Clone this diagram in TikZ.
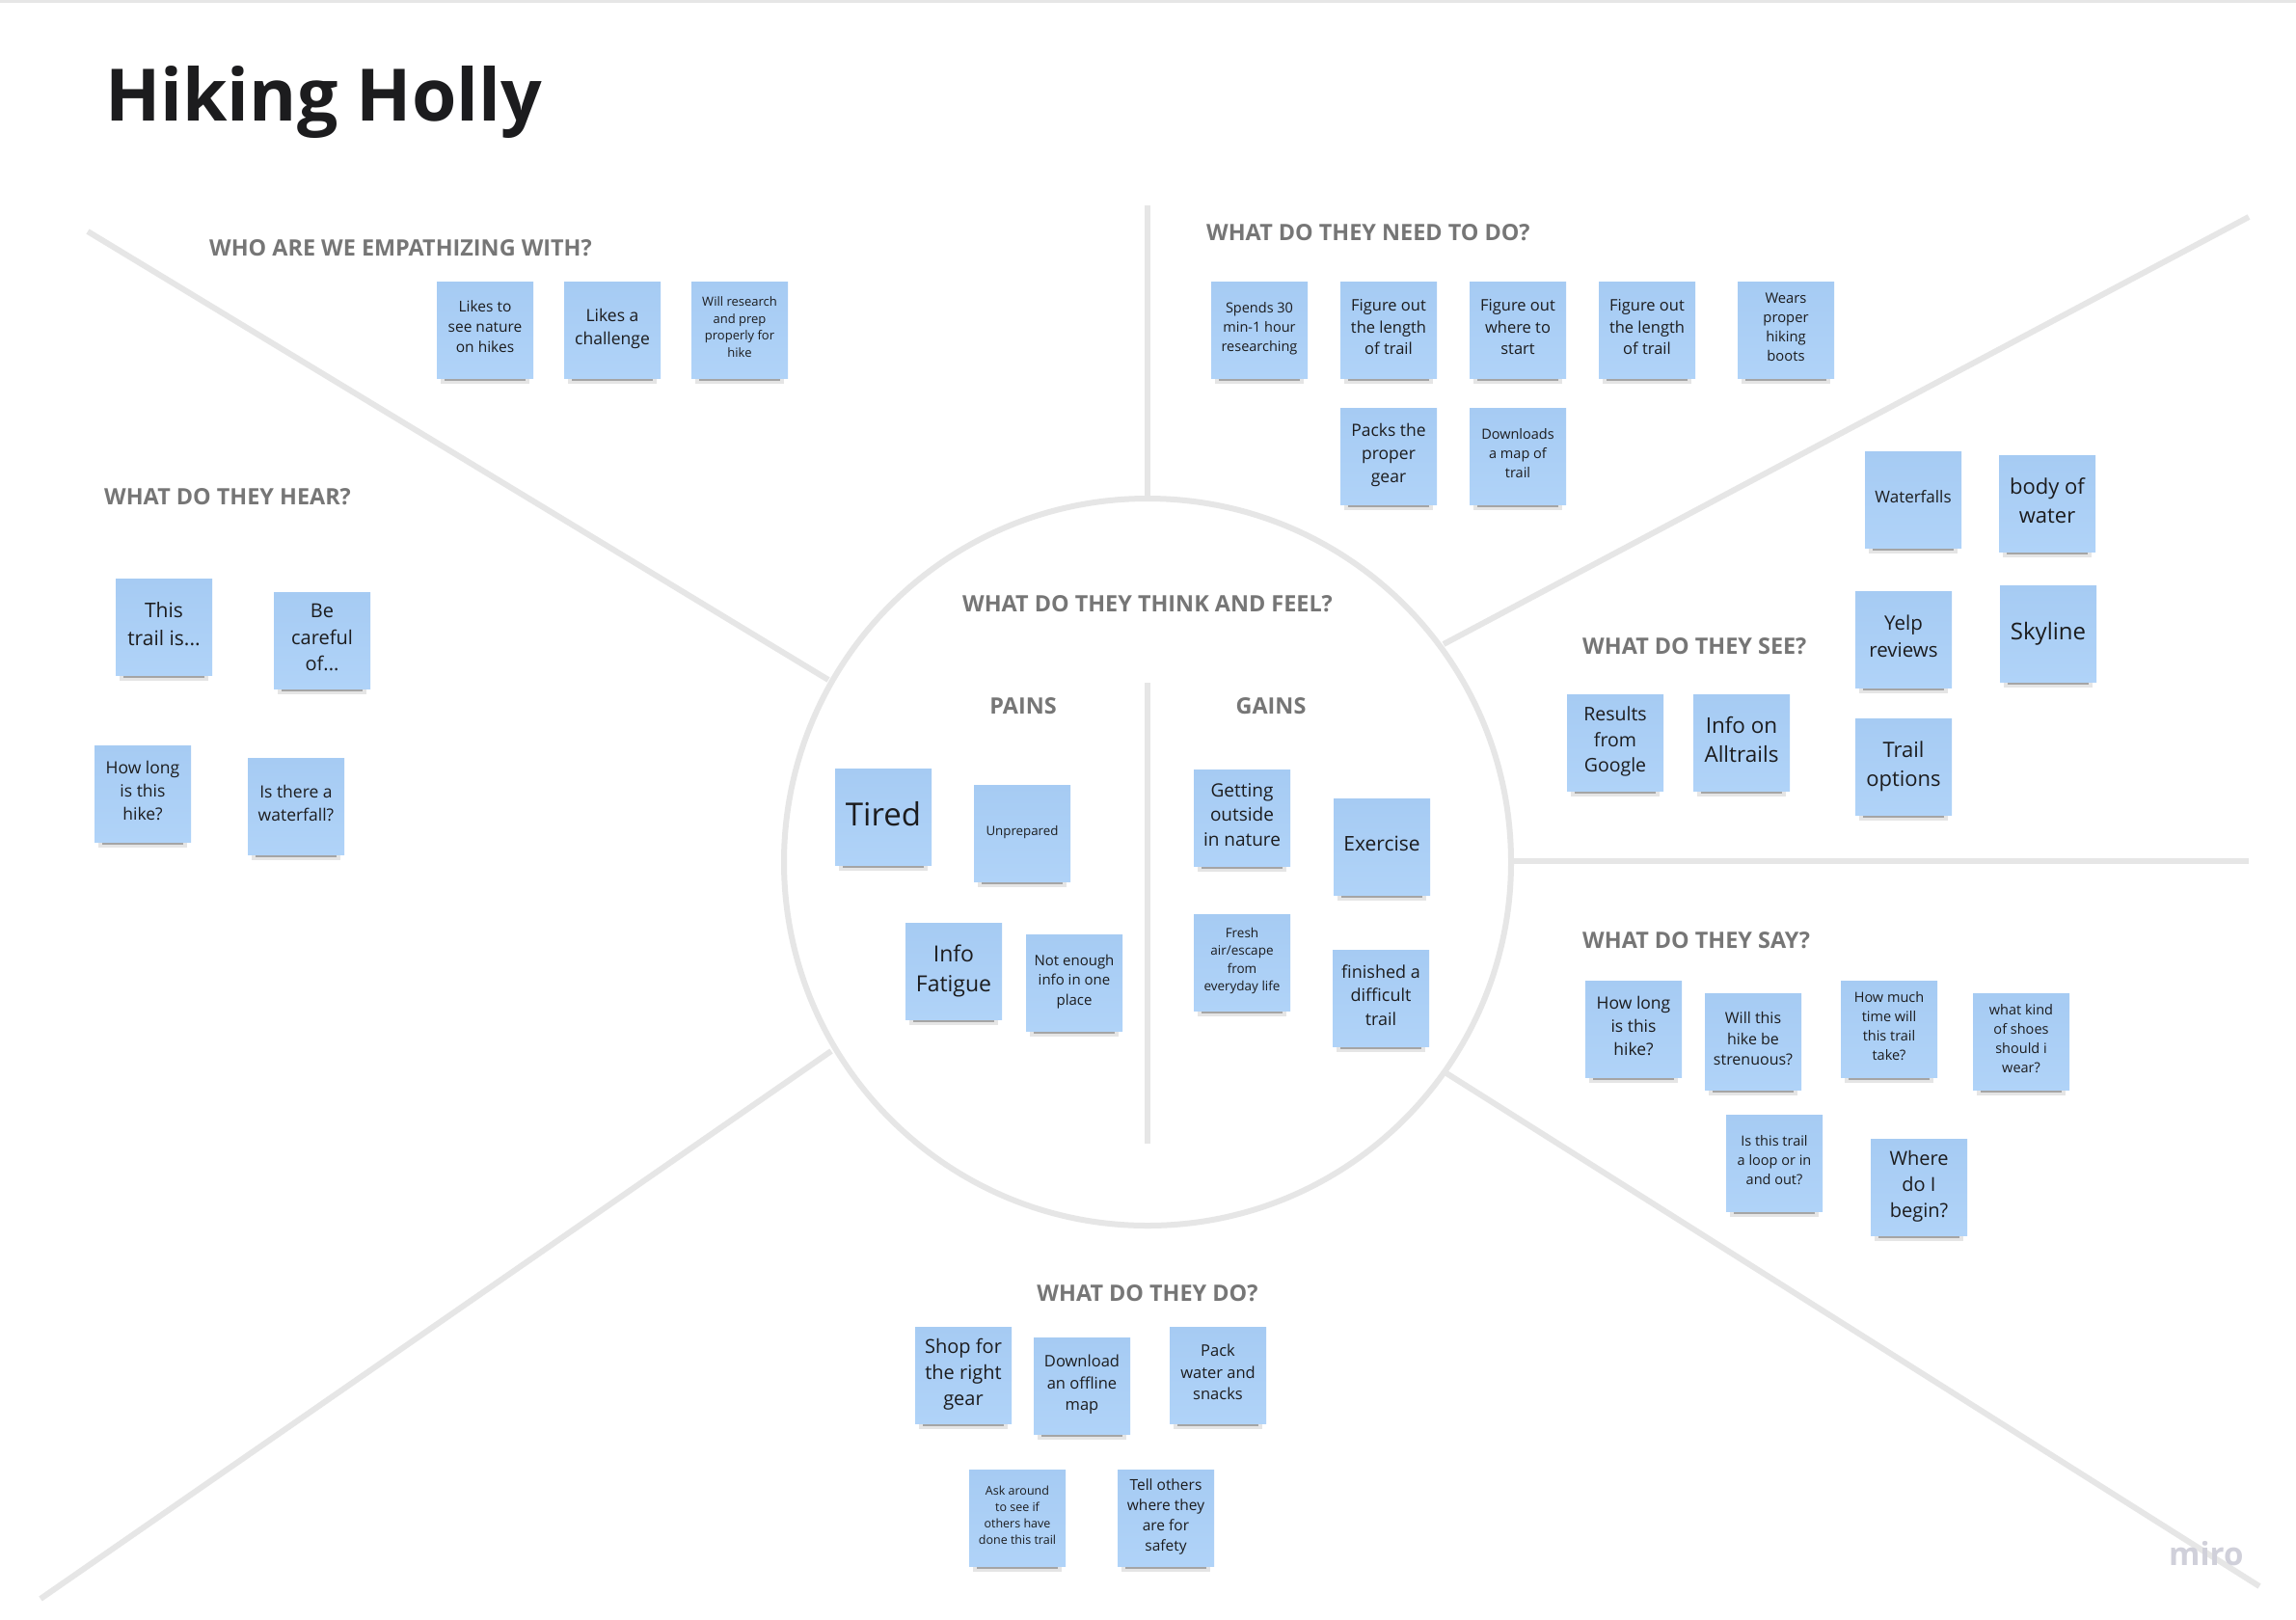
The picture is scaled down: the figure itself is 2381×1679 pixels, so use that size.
\documentclass[tikz,border=0pt]{standalone}
\usepackage{fontspec}
\setmainfont{Open Sans}
\usetikzlibrary{shadows}
\definecolor{hhblue}{HTML}{A6CBF3}
\definecolor{hhbluelt}{HTML}{B0D3F8}
\definecolor{hhink}{HTML}{1C1C1E}
\definecolor{hhhead}{HTML}{767676}
\definecolor{hhline}{HTML}{E6E6E6}
\definecolor{hhmiro}{HTML}{D0D0DA}
\tikzset{
  fs/.style={font=\fontsize{#1}{\fpeval{1.36*#1}}\selectfont},
  note/.style={top color=hhblue,bottom color=hhbluelt,minimum width=100pt,minimum height=100pt,
               align=center,inner sep=2pt,text=hhink,
               execute at end node={\rule[-6pt]{0pt}{6pt}},
               general shadow={fill=black,opacity=.10,shadow scale=.92,shadow yshift=-11pt},
               general shadow={fill=black,opacity=.28,shadow scale=.84,shadow yshift=-13pt}},
  head/.style={font=\bfseries\fontsize{23.4}{28}\selectfont,text=hhhead,inner sep=0pt,anchor=base west},
  ctrhead/.style={head,anchor=base},
  rule/.style={draw=hhline,line width=6pt},
}
\begin{document}
\begin{tikzpicture}[x=1pt,y=-1pt]
    \useasboundingbox[fill=white] (0,0) rectangle (2381,1679);
    \draw[draw=hhline,line width=3pt] (0,1.5) -- (2381,1.5);
    % wheel
    \coordinate (hub) at (1190,894);
    \draw[rule] (hub) circle[radius=377];
    \draw[rule] (1190,213) -- (1190,516);
    \draw[rule] (1190,708) -- (1190,1186);
    \draw[rule] (91,240) -- (859,705);
    \draw[rule] (1497,668) -- (2332,225);
    \draw[rule] (1569,893) -- (2332,893);
    \draw[rule] (1500,1113) -- (2343,1645);
    \draw[rule] (862,1090) -- (42,1658);

    \node[anchor=base west,inner sep=0pt,text=hhink,font=\bfseries\fontsize{75}{88}\selectfont] (title) at (109,125) {Hiking Holly};

    % headings
    \node[head] (hwho) at (217,265) {WHO ARE WE EMPATHIZING WITH?};
    \node[head] (hneed) at (1251,249) {WHAT DO THEY NEED TO DO?};
    \node[head] (hhear) at (108,523) {WHAT DO THEY HEAR?};
    \node[ctrhead] (hthink) at (1190,634) {WHAT DO THEY THINK AND FEEL?};
    \node[ctrhead] (hpains) at (1061,740) {PAINS};
    \node[ctrhead] (hgains) at (1318,740) {GAINS};
    \node[head] (hsee) at (1641,678) {WHAT DO THEY SEE?};
    \node[head] (hsay) at (1641,983) {WHAT DO THEY SAY?};
    \node[ctrhead] (hdo) at (1190,1349) {WHAT DO THEY DO?};

    % who
    \node[note,fs=15.5] (nature) at (503,342) {Likes to\\see nature\\on hikes};
    \node[note,fs=17.5] (challenge) at (635,342) {Likes a\\challenge};
    \node[note,fs=13] (research) at (767,342) {Will research\\and prep\\properly for\\hike};

    % need to do
    \node[note,fs=14.5] (spends) at (1306,342) {Spends 30\\min-1 hour\\researching};
    \node[note,fs=16.5] (length) at (1440,342) {Figure out\\the length\\of trail};
    \node[note,fs=16.5] (start) at (1574,342) {Figure out\\where to\\start};
    \node[note,fs=16.5] (lengthb) at (1708,342) {Figure out\\the length\\of trail};
    \node[note,fs=14.8] (boots) at (1852,342) {Wears\\proper\\hiking\\boots};
    \node[note,fs=17.5] (packs) at (1440,473) {Packs the\\proper\\gear};
    \node[note,fs=14.5] (mapdl) at (1574,473) {Downloads\\a map of\\trail};

    % see
    \node[note,fs=17] (falls) at (1984,518) {Waterfalls};
    \node[note,fs=22] (water) at (2123,522) {body of\\water};
    \node[note,fs=20.5] (yelp) at (1974,663) {Yelp\\reviews};
    \node[note,fs=24] (skyline) at (2124,657) {Skyline};
    \node[note,fs=19.5] (google) at (1675,770) {Results\\from\\Google};
    \node[note,fs=22.5] (alltrails) at (1806,770) {Info on\\Alltrails};
    \node[note,fs=22] (options) at (1974,795) {Trail\\options};

    % say
    \node[note,fs=17.5] (sayhow) at (1694,1067) {How long\\is this\\hike?};
    \node[note,fs=16] (strenuous) at (1818,1080) {Will this\\hike be\\strenuous?};
    \node[note,fs=14.5] (howmuch) at (1959,1067) {How much\\time will\\this trail\\take?};
    \node[note,fs=14.5] (shoes) at (2096,1080) {what kind\\of shoes\\should i\\wear?};
    \node[note,fs=14.5] (loop) at (1840,1206) {Is this trail\\a loop or in\\and out?};
    \node[note,fs=20] (begin) at (1990,1231) {Where\\do I\\begin?};

    % hear
    \node[note,fs=21] (trailis) at (170,650) {This\\trail is...};
    \node[note,fs=20] (careful) at (334,664) {Be\\careful\\of...};
    \node[note,fs=17.5] (hearhow) at (148,823) {How long\\is this\\hike?};
    \node[note,fs=17.5] (waterfall) at (307,836) {Is there a\\waterfall?};

    % think and feel
    \node[note,fs=33] (tired) at (916,847) {Tired};
    \node[note,fs=13.3] (unprep) at (1060,864) {Unprepared};
    \node[note,fs=23] (fatigue) at (989,1007) {Info\\Fatigue};
    \node[note,fs=15] (notenough) at (1114,1019) {Not enough\\info in one\\place};
    \node[note,fs=19] (outside) at (1288,848) {Getting\\outside\\in nature};
    \node[note,fs=21] (exercise) at (1433,878) {Exercise};
    \node[note,fs=13.5] (fresh) at (1288,998) {Fresh\\air/escape\\from\\everyday life};
    \node[note,fs=18] (finished) at (1432,1035) {finished a\\difficult\\trail};

    % do
    \node[note,fs=20] (shop) at (999,1426) {Shop for\\the right\\gear};
    \node[note,fs=16.5] (offline) at (1122,1437) {Download\\an offline\\map};
    \node[note,fs=16.5] (snacks) at (1263,1426) {Pack\\water and\\snacks};
    \node[note,fs=12.5] (ask) at (1055,1574) {Ask around\\to see if\\others have\\done this trail};
    \node[note,fs=15.5] (tell) at (1209,1574) {Tell others\\where they\\are for\\safety};

    \node[anchor=base west,inner sep=0pt,text=hhmiro,font=\bfseries\fontsize{33}{40}\selectfont] (miro) at (2249,1623) {miro};
  \end{tikzpicture}
\end{document}
